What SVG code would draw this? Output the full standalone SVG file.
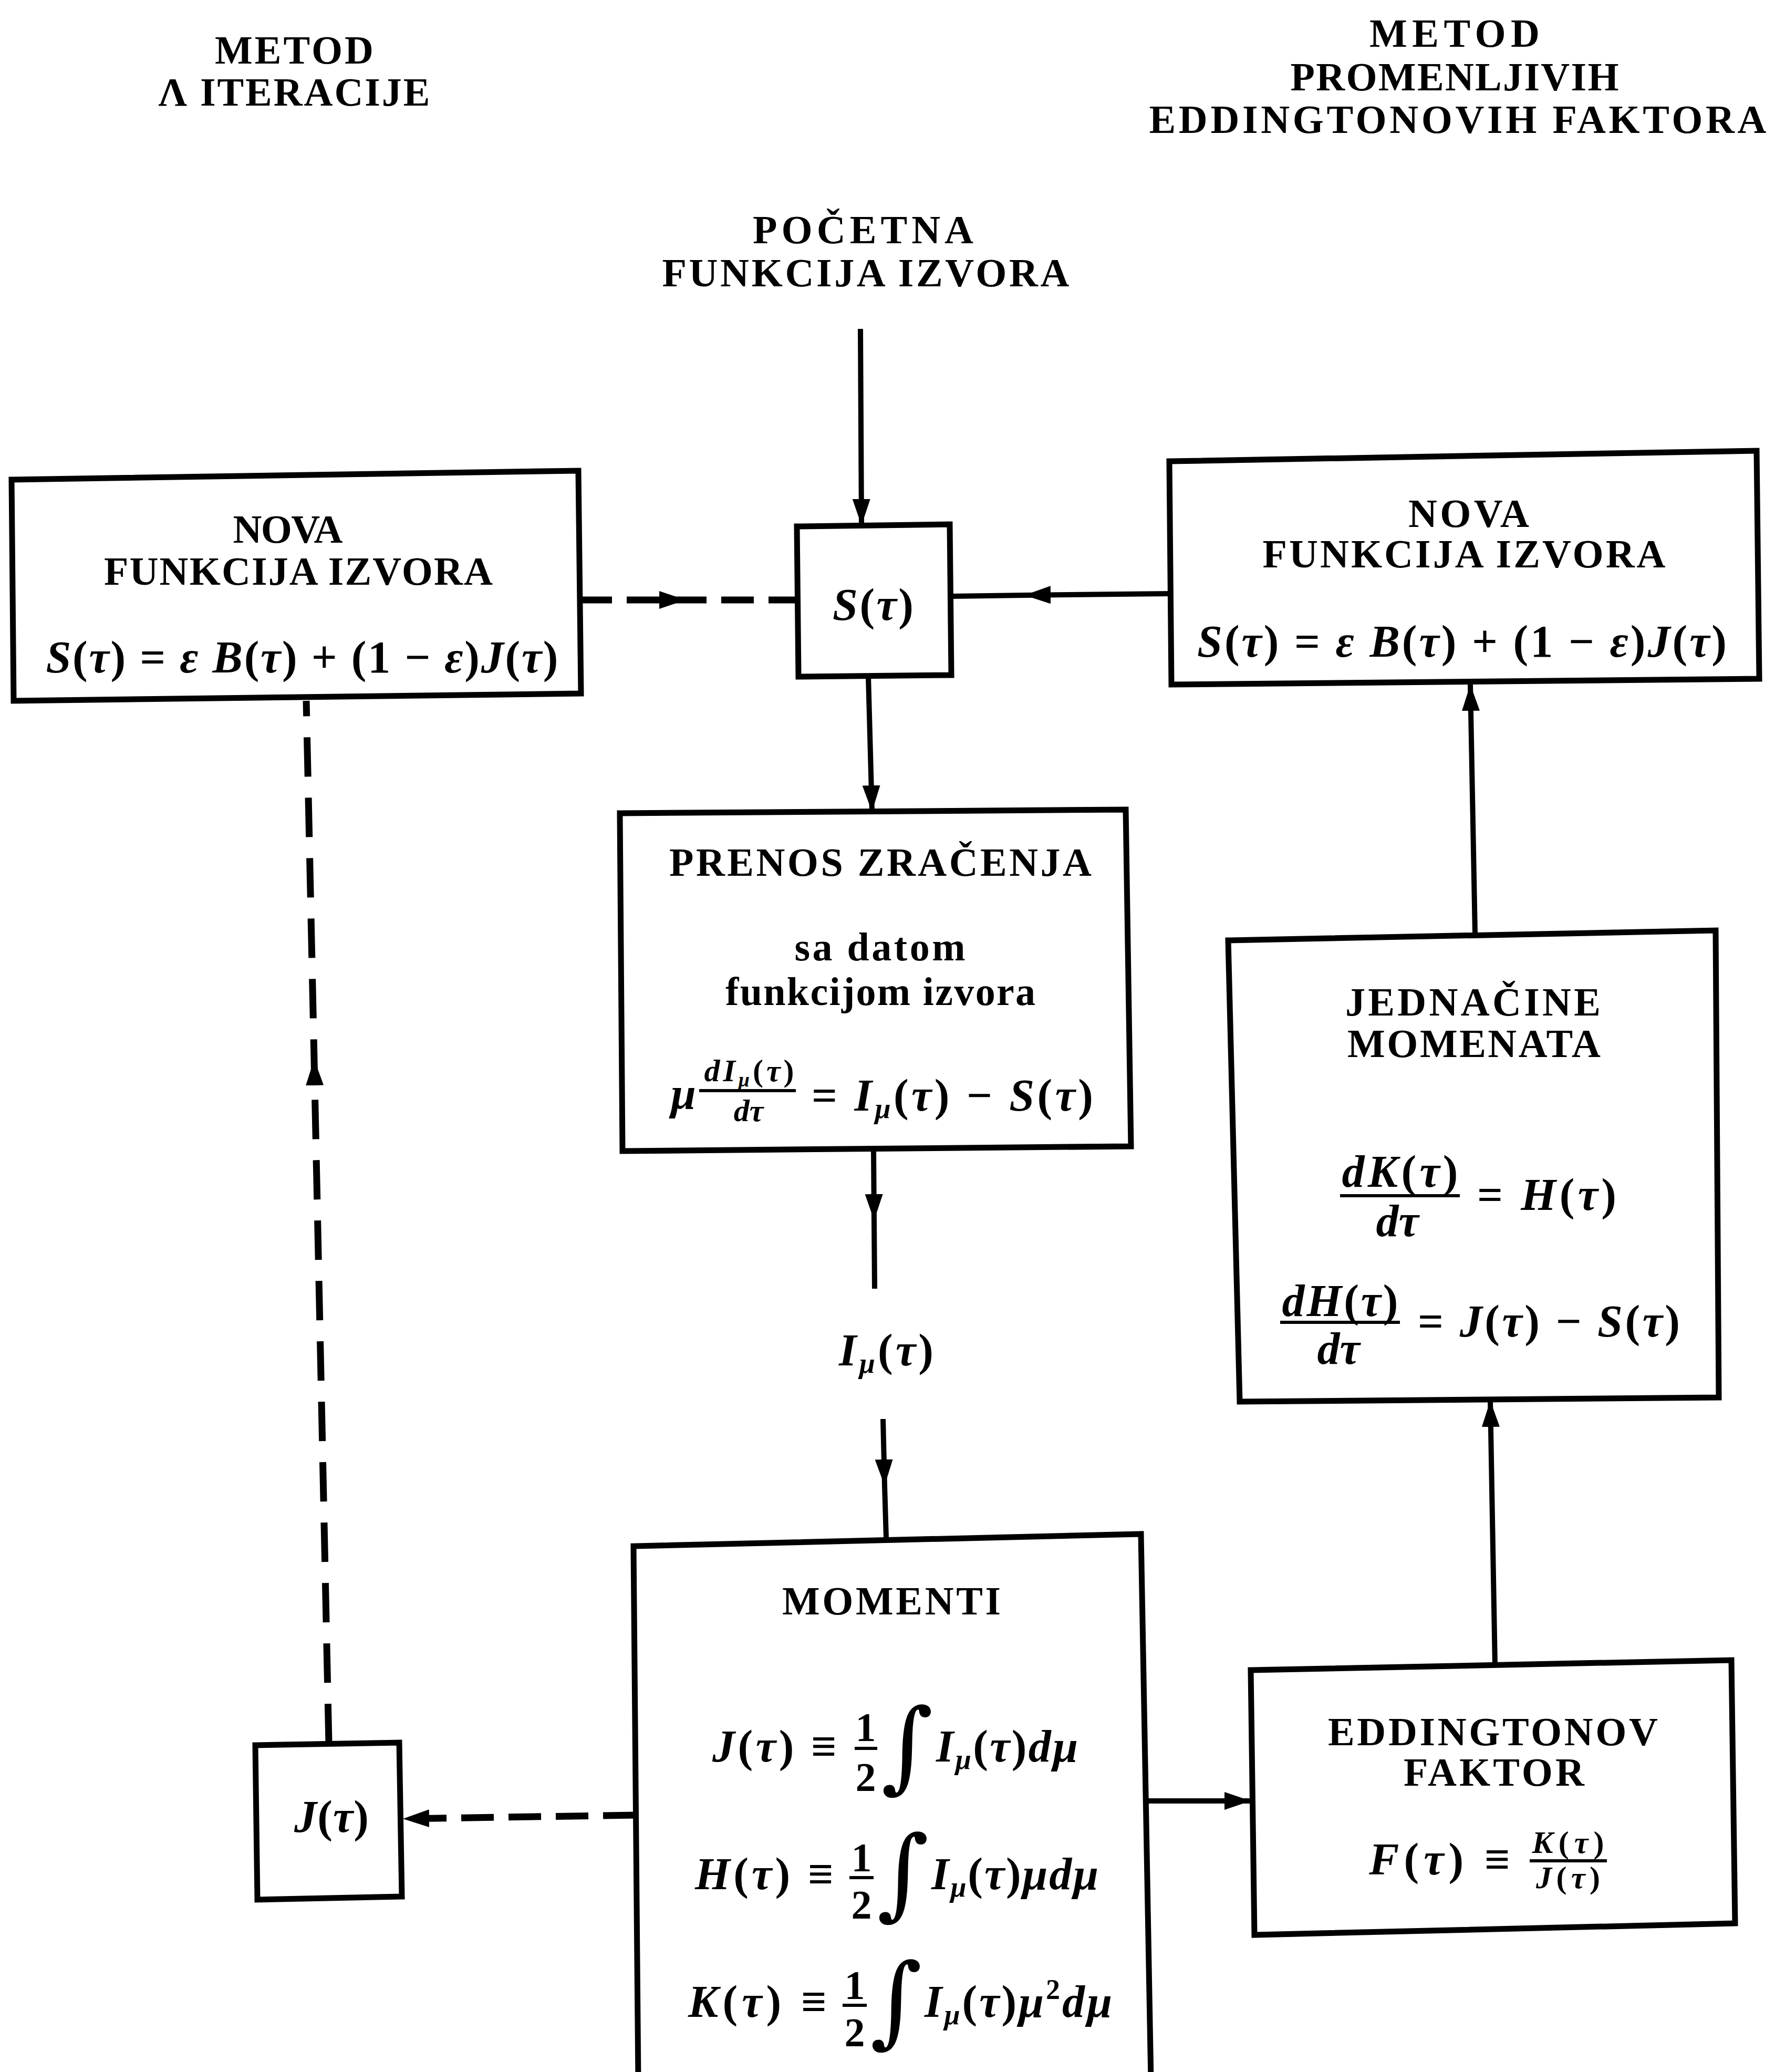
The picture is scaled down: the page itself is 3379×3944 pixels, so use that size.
<svg xmlns="http://www.w3.org/2000/svg" width="3379" height="3944" viewBox="0 0 3379 3944">
<defs>
<style>
.h{font-family:"Liberation Serif","DejaVu Serif",serif;font-weight:bold;font-size:76px;text-anchor:middle;fill:#000}
.dg{font-size:78px}
.m{font-family:"Liberation Serif","DejaVu Serif",serif;font-weight:bold;font-style:italic;font-size:86px;fill:#000}
.s{font-size:60px}
.u{font-style:normal}
.sub{font-size:54px}
.int{font-family:"DejaVu Serif","Liberation Serif",serif;font-style:normal;font-weight:normal;font-size:190px;text-anchor:middle}
.box{fill:none;stroke:#000;stroke-width:11;stroke-linejoin:miter}
.c{fill:none;stroke:#000;stroke-width:10}
.d{fill:none;stroke:#000;stroke-width:13;stroke-dasharray:62 28}
.dv{fill:none;stroke:#000;stroke-width:13;stroke-dasharray:75 40}
.bar{stroke:#000;stroke-width:6}
</style>
<marker id="ah" viewBox="0 0 50 34" refX="50" refY="17" markerWidth="50" markerHeight="34" markerUnits="userSpaceOnUse" orient="auto"><path d="M0,0 L50,17 L0,34 Z" fill="#000"/></marker>
</defs>
<rect x="0" y="0" width="3379" height="3944" fill="#fff"/>

<g id="connectors">
<path class="c" d="M1638,626 L1640,1000" marker-end="url(#ah)"/>
<path class="d" d="M1103,1142 L1305,1142 L1517,1142" marker-mid="url(#ah)"/>
<path class="c" d="M2226,1130 L1950,1133 L1811,1135" marker-mid="url(#ah)"/>
<path class="c" d="M1653,1288 L1660,1545" marker-end="url(#ah)"/>
<path class="c" d="M1663,2190 L1664,2323 L1665,2453" marker-mid="url(#ah)"/>
<path class="c" d="M1681,2701 L1684,2828 L1687,2928" marker-mid="url(#ah)"/>
<path class="d" d="M1210,3455 L767,3462" marker-end="url(#ah)"/>
<path class="dv" d="M626,3318 L598,2016 L583,1334" marker-mid="url(#ah)"/>
<path class="c" d="M2180,3428 L2381,3428" marker-end="url(#ah)"/>
<path class="c" d="M2846,3172 L2837,2666" marker-end="url(#ah)"/>
<path class="c" d="M2808,1778 L2799,1303" marker-end="url(#ah)"/>
</g>

<g id="title-lambda">
<text class="h" x="560" y="121" textLength="302">METOD</text>
<text class="h" x="560" y="201" textLength="517">Λ ITERACIJE</text>
</g>

<g id="title-eddington">
<text class="h" x="2769" y="89" textLength="324">METOD</text>
<text class="h" x="2769" y="172" textLength="625">PROMENLJIVIH</text>
<text class="h" x="2775" y="253" textLength="1175">EDDINGTONOVIH FAKTORA</text>
</g>

<g id="start">
<text class="h" x="1643" y="463" textLength="420" font-size="72">POČETNA</text>
<text class="h" x="1648" y="545" textLength="775" font-size="72">FUNKCIJA IZVORA</text>
</g>

<g id="nova-left">
<path class="box" d="M22,913 L1101,896 L1106,1320 L26,1334 Z"/>
<text class="h" x="548" y="1033" textLength="209">NOVA</text>
<text class="h" x="568" y="1113" textLength="740">FUNKCIJA IZVORA</text>
<text class="m" x="575" y="1280" text-anchor="middle" textLength="975">S<tspan class="u">(</tspan>τ<tspan class="u">) = </tspan>ε B<tspan class="u">(</tspan>τ<tspan class="u">) + (1 − </tspan>ε<tspan class="u">)</tspan>J<tspan class="u">(</tspan>τ<tspan class="u">)</tspan></text>
</g>

<g id="source">
<path class="box" d="M1517,1002 L1808,998 L1811,1285 L1520,1288 Z"/>
<text class="m" x="1662" y="1180" text-anchor="middle" textLength="154">S<tspan class="u">(</tspan>τ<tspan class="u">)</tspan></text>
</g>

<g id="nova-right">
<path class="box" d="M2226,878 L3344,858 L3349,1292 L2230,1303 Z"/>
<text class="h" x="2796" y="1003" textLength="230">NOVA</text>
<text class="h" x="2787" y="1080" textLength="767">FUNKCIJA IZVORA</text>
<text class="m" x="2783" y="1250" text-anchor="middle" textLength="1008">S<tspan class="u">(</tspan>τ<tspan class="u">) = </tspan>ε B<tspan class="u">(</tspan>τ<tspan class="u">) + (1 − </tspan>ε<tspan class="u">)</tspan>J<tspan class="u">(</tspan>τ<tspan class="u">)</tspan></text>
</g>

<g id="prenos">
<path class="box" d="M1180,1548 L2143,1541 L2153,2182 L1185,2191 Z"/>
<text class="h" x="1676" y="1667" textLength="804">PRENOS ZRAČENJA</text>
<text class="h" x="1675" y="1828" textLength="325">sa datom</text>
<text class="h" x="1676" y="1913" textLength="590">funkcijom izvora</text>
<text class="m" x="1277" y="2110">μ</text>
<text class="m s" x="1426" y="2058" text-anchor="middle" textLength="171">dI<tspan dy="10" font-size="38">μ</tspan><tspan dy="-10" class="u">(</tspan>τ<tspan class="u">)</tspan></text>
<line class="bar" x1="1331" y1="2076" x2="1515" y2="2076"/>
<text class="m s" x="1425" y="2134" text-anchor="middle">dτ</text>
<text class="m" x="1545" y="2114" textLength="536"><tspan class="u">= </tspan>I<tspan class="sub" dy="14">μ</tspan><tspan class="u" dy="-14">(</tspan>τ<tspan class="u">) − </tspan>S<tspan class="u">(</tspan>τ<tspan class="u">)</tspan></text>
</g>

<g id="intensity">
<text class="m" x="1687" y="2599" text-anchor="middle" textLength="180">I<tspan class="sub" dy="14">μ</tspan><tspan class="u" dy="-14">(</tspan>τ<tspan class="u">)</tspan></text>
</g>

<g id="momenti">
<path class="box" d="M1215,3960 L1206,2943 L2172,2920 L2191,3960"/>
<text class="h" x="1697" y="3073" textLength="416">MOMENTI</text>
<text class="m" x="1356" y="3353" textLength="237">J<tspan class="u">(</tspan>τ<tspan class="u">) ≡</tspan></text>
<text class="h dg" x="1648" y="3314">1</text>
<line class="bar" x1="1627" y1="3328" x2="1670" y2="3328"/>
<text class="h dg" x="1648" y="3409">2</text>
<text class="int" x="1727" y="3388">∫</text>
<text class="m" x="1782" y="3353" textLength="270">I<tspan class="sub" dy="14">μ</tspan><tspan class="u" dy="-14">(</tspan>τ<tspan class="u">)</tspan>dμ</text>
<text class="m" x="1323" y="3596" textLength="264">H<tspan class="u">(</tspan>τ<tspan class="u">) ≡</tspan></text>
<text class="h dg" x="1640" y="3562">1</text>
<line class="bar" x1="1617" y1="3574" x2="1663" y2="3574"/>
<text class="h dg" x="1640" y="3652">2</text>
<text class="int" x="1719" y="3630">∫</text>
<text class="m" x="1773" y="3596" textLength="318">I<tspan class="sub" dy="14">μ</tspan><tspan class="u" dy="-14">(</tspan>τ<tspan class="u">)</tspan>μdμ</text>
<text class="m" x="1310" y="3839" textLength="264">K<tspan class="u">(</tspan>τ<tspan class="u">) ≡</tspan></text>
<text class="h dg" x="1627" y="3805">1</text>
<line class="bar" x1="1604" y1="3817" x2="1650" y2="3817"/>
<text class="h dg" x="1627" y="3895">2</text>
<text class="int" x="1706" y="3873">∫</text>
<text class="m" x="1760" y="3839" textLength="357">I<tspan class="sub" dy="14">μ</tspan><tspan class="u" dy="-14">(</tspan>τ<tspan class="u">)</tspan>μ<tspan class="sub u" dy="-34">2</tspan><tspan dy="34">dμ</tspan></text>
</g>

<g id="jbox">
<path class="box" d="M486,3322 L760,3317 L765,3610 L490,3616 Z"/>
<text class="m" x="631" y="3487" text-anchor="middle" textLength="142">J<tspan class="u">(</tspan>τ<tspan class="u">)</tspan></text>
</g>

<g id="eddington-factor">
<path class="box" d="M2381,3179 L3296,3160 L3303,3661 L2388,3683 Z"/>
<text class="h" x="2842" y="3322" textLength="628">EDDINGTONOV</text>
<text class="h" x="2844" y="3399" textLength="344">FAKTOR</text>
<text class="m" x="2606" y="3568" textLength="269" font-size="92">F<tspan class="u">(</tspan>τ<tspan class="u">) ≡</tspan></text>
<text class="m s" x="2985" y="3527" text-anchor="middle" textLength="137">K<tspan class="u">(</tspan>τ<tspan class="u">)</tspan></text>
<line class="bar" x1="2912" y1="3542" x2="3059" y2="3542"/>
<text class="m s" x="2985" y="3594" text-anchor="middle" textLength="122">J<tspan class="u">(</tspan>τ<tspan class="u">)</tspan></text>
</g>

<g id="moment-equations">
<path class="box" d="M2338,1790 L3266,1771 L3272,2660 L2360,2668 Z"/>
<text class="h" x="2804" y="1933" textLength="486">JEDNAČINE</text>
<text class="h" x="2806" y="2012" textLength="482">MOMENATA</text>
<text class="m" x="2665" y="2259" text-anchor="middle" textLength="221">dK<tspan class="u">(</tspan>τ<tspan class="u">)</tspan></text>
<line class="bar" x1="2551" y1="2276" x2="2779" y2="2276"/>
<text class="m" x="2660" y="2353" text-anchor="middle">dτ</text>
<text class="m" x="2812" y="2303" textLength="265"><tspan class="u">= </tspan>H<tspan class="u">(</tspan>τ<tspan class="u">)</tspan></text>
<text class="m" x="2551" y="2505" text-anchor="middle" textLength="221">dH<tspan class="u">(</tspan>τ<tspan class="u">)</tspan></text>
<line class="bar" x1="2437" y1="2517" x2="2665" y2="2517"/>
<text class="m" x="2548" y="2596" text-anchor="middle">dτ</text>
<text class="m" x="2699" y="2544" textLength="499"><tspan class="u">= </tspan>J<tspan class="u">(</tspan>τ<tspan class="u">) − </tspan>S<tspan class="u">(</tspan>τ<tspan class="u">)</tspan></text>
</g>
</svg>
